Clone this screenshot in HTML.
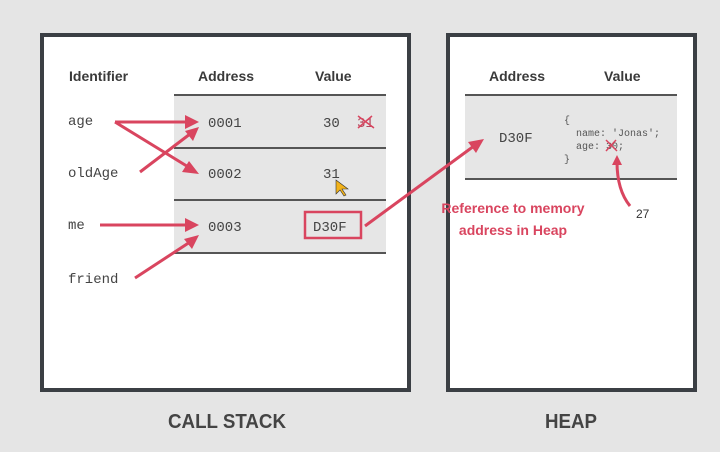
<!DOCTYPE html>
<html><head><meta charset="utf-8"><style>
html,body{margin:0;padding:0;background:#e5e5e5;width:720px;height:452px;overflow:hidden}
svg{display:block}
.h{font-family:"Liberation Sans",sans-serif;font-weight:bold;font-size:14px;fill:#3a3a3a}
.m{font-family:"Liberation Mono",monospace;font-size:14px;fill:#444}
.r{stroke:#d9455f;stroke-width:3;fill:none}
.rf{fill:#d9455f}
.big{font-family:"Liberation Sans",sans-serif;font-weight:bold;font-size:20px;fill:#444}
</style></head><body>
<svg width="720" height="452" viewBox="0 0 720 452">
<rect x="0" y="0" width="720" height="452" fill="#e5e5e5"/>
<rect x="42" y="35" width="367" height="355" fill="#fff" stroke="#3b3f44" stroke-width="4"/>
<rect x="448" y="35" width="247" height="355" fill="#fff" stroke="#3b3f44" stroke-width="4"/>
<!-- stack table -->
<rect x="174" y="95" width="212" height="158" fill="#e6e6e6"/>
<g stroke="#555" stroke-width="2">
<line x1="174" y1="95" x2="386" y2="95"/><line x1="174" y1="148" x2="386" y2="148"/>
<line x1="174" y1="200" x2="386" y2="200"/><line x1="174" y1="253" x2="386" y2="253"/></g>
<text class="h" x="69" y="81">Identifier</text>
<text class="h" x="198" y="81">Address</text>
<text class="h" x="315" y="81">Value</text>
<text class="m" x="68" y="125">age</text>
<text class="m" x="68" y="177">oldAge</text>
<text class="m" x="68" y="229">me</text>
<text class="m" x="68" y="283">friend</text>
<text class="m" x="208" y="127">0001</text>
<text class="m" x="208" y="178">0002</text>
<text class="m" x="208" y="231">0003</text>
<text class="m" x="323" y="127">30</text>
<text class="m" x="357" y="127" style="fill:#b34a60">31</text>
<path d="M358 116 L374 128 M358 128 L372 116" stroke="#d9455f" stroke-width="1.5"/>
<text class="m" x="323" y="178">31</text>
<path d="M336 180 l0 14 l4 -4 l4 6 l2 -1 l-4 -6 l6 0 z" fill="#f2b21a" stroke="#333" stroke-width="0.6"/>
<rect x="305" y="212" width="56" height="26" fill="none" stroke="#d9455f" stroke-width="2.5"/>
<text class="m" x="313" y="231">D30F</text>
<!-- arrows -->
<path class="r" d="M115 122 L188 122"/><path class="rf" d="M199 122 L185 115 L185 129 Z"/>
<path class="r" d="M115 122 L190 168"/><path class="rf" d="M199 174 L182 172 L189 161 Z"/>
<path class="r" d="M140 172 L190 134"/><path class="rf" d="M199 127 L193 141 L185 131 Z"/>
<path class="r" d="M100 225 L188 225"/><path class="rf" d="M199 225 L185 218 L185 232 Z"/>
<path class="r" d="M135 278 L190 242"/><path class="rf" d="M199 235 L192 249 L184 239 Z"/>
<!-- heap -->
<rect x="465" y="95" width="212" height="85" fill="#e6e6e6"/>
<g stroke="#555" stroke-width="2"><line x1="465" y1="95" x2="677" y2="95"/><line x1="465" y1="179" x2="677" y2="179"/></g>
<text class="h" x="489" y="81">Address</text>
<text class="h" x="604" y="81">Value</text>
<text class="m" x="499" y="142">D30F</text>
<g font-family="Liberation Mono,monospace" font-size="10" fill="#555">
<text x="564" y="123">{</text>
<text x="576" y="136">name: 'Jonas';</text>
<text x="576" y="149">age: 30;</text>
<text x="564" y="162">}</text></g>
<path d="M606 140 L617 151 M606 151 L616 140" stroke="#d9455f" stroke-width="1.5"/>
<path class="r" d="M630 206 Q617 190 617 162" stroke-width="2"/><path class="rf" d="M617 155 L612 165 L622 165 Z"/>
<text x="636" y="218" font-family="Liberation Sans,sans-serif" font-size="12" fill="#333">27</text>
<path class="r" d="M365 226 L474 146"/><path class="rf" d="M484 139 L476 153 L468 142 Z"/>
<text x="513" y="213" text-anchor="middle" font-family="Liberation Sans,sans-serif" font-weight="bold" font-size="14" fill="#d9455f">Reference to memory</text>
<text x="513" y="235" text-anchor="middle" font-family="Liberation Sans,sans-serif" font-weight="bold" font-size="14" fill="#d9455f">address in Heap</text>
<text class="big" x="168" y="428" textLength="118" lengthAdjust="spacingAndGlyphs">CALL STACK</text>
<text class="big" x="545" y="428" textLength="52" lengthAdjust="spacingAndGlyphs">HEAP</text>
</svg>
</body></html>
